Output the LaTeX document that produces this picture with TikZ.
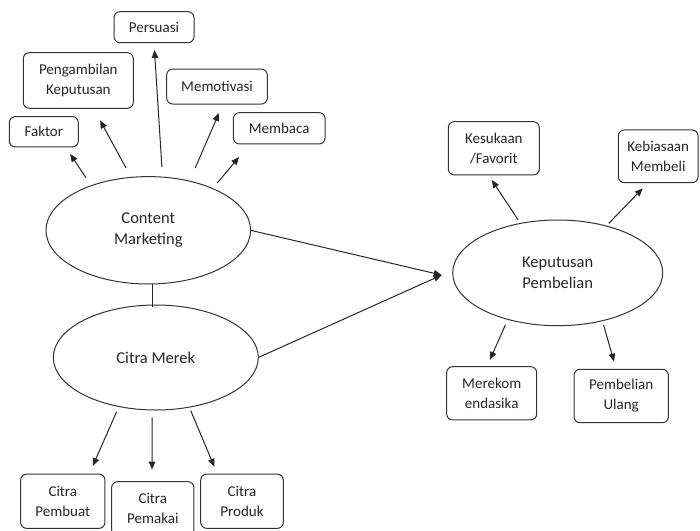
\documentclass[tikz,border=0pt]{standalone}
\usepackage{fontspec}
\setmainfont{Carlito}
\usetikzlibrary{arrows.meta,shapes.geometric}
\begin{document}
\begin{tikzpicture}[x=1pt,y=-1pt,
  line width=1pt,
  every node/.style={text=black!85},
  box/.style={draw=black!80, rounded corners=6pt, align=center, inner sep=0pt, outer sep=0pt, font=\fontsize{15}{20}\selectfont},
  oval/.style={draw=black!80, ellipse, align=center, inner sep=0pt, outer sep=0pt, font=\fontsize{16.5}{21.5}\selectfont},
  arr/.style={draw=black!85, -{Triangle[length=8pt,width=6.5pt]}},
  link/.style={draw=black!85}]
\useasboundingbox (0,0) rectangle (700,530);
\clip (0,0) rectangle (700,530);

% ellipses
\node[oval, minimum width=204.6pt, minimum height=107.4pt] (cm) at (148.3,230.3) {Content\\Marketing};
\node[oval, minimum width=205pt, minimum height=105pt] (cmk) at (155.8,357.5) {Citra Merek};
\node[oval, minimum width=210pt, minimum height=105.7pt] (kp) at (557.7,272.85) {Keputusan\\Pembelian};

% boxes around Content Marketing
\node[box, minimum width=69pt, minimum height=30.3pt] (faktor) at (43.8,131.8) {Faktor};
\node[box, minimum width=110pt, minimum height=55.6pt] (peng) at (78.3,80.5) {Pengambilan\\Keputusan};
\node[box, minimum width=80pt, minimum height=31pt] (persuasi) at (154,27.2) {Persuasi};
\node[box, minimum width=100.6pt, minimum height=35pt] (memot) at (217,86.5) {Memotivasi};
\node[box, minimum width=91.7pt, minimum height=31.3pt] (membaca) at (279.2,128.3) {Membaca};

% boxes around Keputusan Pembelian
\node[box, minimum width=91pt, minimum height=53.3pt] (kes) at (493.8,148.3) {Kesukaan\\/Favorit};
\node[box, minimum width=79.7pt, minimum height=52.7pt] (keb) at (658.2,156.3) {Kebiasaan\\Membeli};
\node[box, minimum width=90pt, minimum height=53.3pt] (merekom) at (491.7,393.3) {Merekom\\endasika};
\node[box, minimum width=94.3pt, minimum height=53.4pt] (pemb) at (621.2,396) {Pembelian\\Ulang};

% boxes below Citra Merek
\node[box, minimum width=84.3pt, minimum height=54.3pt] (pembuat) at (62.8,501.2) {Citra\\Pembuat};
\node[box, minimum width=82.3pt, minimum height=54.3pt] (pemakai) at (152.8,508.8) {Citra\\Pemakai};
\node[box, minimum width=82.6pt, minimum height=54.3pt] (produk) at (242,501.2) {Citra\\Produk};

\coordinate (kpin) at ([xshift=-11pt,yshift=-2.2pt]kp.west);

% connectors
\draw[link] ([xshift=3.7pt]cm.south) -- ([xshift=-3.8pt,yshift=-2pt]cmk.north);
\draw[arr] (cm.east) -- (kpin);
\draw[arr] (cmk.east) -- (kpin);

\draw[arr, shorten <=9.6pt, shorten >=8.3pt] (cm.142.8) -- ([xshift=21.8pt]faktor.south);
\draw[arr, shorten <=10.6pt, shorten >=13.7pt] (cm.108.1) -- ([xshift=15.2pt]peng.south);
\draw[arr, shorten <=10.1pt, shorten >=7.3pt] (cm.75.9) -- (persuasi.south);
\draw[arr, shorten <=14.3pt, shorten >=9.8pt] (cm.50.2) -- ([xshift=5.9pt]memot.south);
\draw[arr, shorten <=7.1pt, shorten >=17pt] (cm.33.2) -- ([xshift=-29.2pt]membaca.south);

\draw[arr, shorten <=4.1pt, shorten >=6pt] (kp.127.2) -- ([xshift=-5.4pt]kes.south);
\draw[arr, shorten <=3.6pt, shorten >=7.9pt] (kp.44.3) -- ([xshift=-10pt]keb.south);
\draw[arr, shorten <=6pt, shorten >=7.4pt] (kp.223.5) -- ([xshift=-4.8pt]merekom.north);
\draw[arr, shorten <=4.4pt, shorten >=8pt] (kp.-47.7) -- ([xshift=-4.9pt]pemb.north);

\draw[arr, shorten <=5.7pt, shorten >=8.75pt] (cmk.233.1) -- ([xshift=26.4pt]pembuat.north);
\draw[arr, shorten <=7.3pt, shorten >=12pt] (cmk.-94.1) -- ([xshift=-0.8pt]pemakai.north);
\draw[arr, shorten <=3.8pt, shorten >=7.9pt] (cmk.-56.1) -- ([xshift=-24.6pt]produk.north);
\end{tikzpicture}
\end{document}
